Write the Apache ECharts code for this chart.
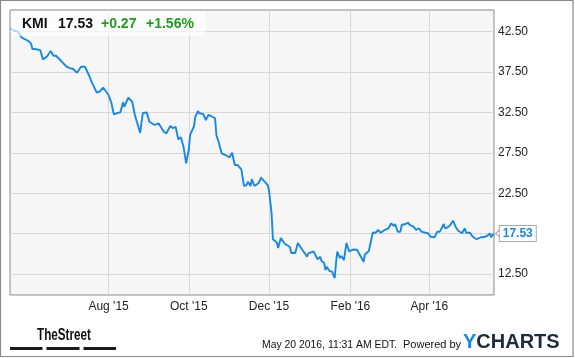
<!DOCTYPE html>
<html><head><meta charset="utf-8">
<script src="https://cdn.jsdelivr.net/npm/echarts@6/dist/echarts.min.js"></script>
<style>html,body{margin:0;padding:0;background:#fff}#c{width:575px;height:358px}</style>
</head><body><div id="c"></div>
<script>
const dates = ['2015-05-18','2015-05-21','2015-05-24','2015-05-27','2015-06-01','2015-06-03','2015-06-04','2015-06-06','2015-06-10','2015-06-12','2015-06-15','2015-06-18','2015-06-20','2015-06-22','2015-06-26','2015-06-30','2015-07-03','2015-07-05','2015-07-08','2015-07-09','2015-07-11','2015-07-14','2015-07-17','2015-07-19','2015-07-23','2015-07-25','2015-07-28','2015-08-01','2015-08-03','2015-08-05','2015-08-07','2015-08-10','2015-08-12','2015-08-13','2015-08-16','2015-08-17','2015-08-19','2015-08-21','2015-08-25','2015-08-27','2015-08-30','2015-09-01','2015-09-05','2015-09-08','2015-09-12','2015-09-14','2015-09-17','2015-09-19','2015-09-21','2015-09-23','2015-09-25','2015-09-27','2015-09-29','2015-10-01','2015-10-02','2015-10-05','2015-10-06','2015-10-08','2015-10-09','2015-10-12','2015-10-14','2015-10-16','2015-10-18','2015-10-21','2015-10-22','2015-10-24','2015-10-26','2015-10-27','2015-10-29','2015-10-30','2015-11-01','2015-11-03','2015-11-05','2015-11-07','2015-11-10','2015-11-12','2015-11-14','2015-11-15','2015-11-17','2015-11-18','2015-11-20','2015-11-23','2015-11-25','2015-11-27','2015-11-30','2015-12-01','2015-12-03','2015-12-04','2015-12-07','2015-12-08','2015-12-10','2015-12-13','2015-12-17','2015-12-18','2015-12-21','2015-12-23','2015-12-26','2015-12-30','2015-12-31','2016-01-04','2016-01-05','2016-01-07','2016-01-09','2016-01-10','2016-01-12','2016-01-13','2016-01-14','2016-01-16','2016-01-18','2016-01-20','2016-01-21','2016-01-22','2016-01-24','2016-01-25','2016-01-27','2016-01-29','2016-01-31','2016-02-03','2016-02-06','2016-02-08','2016-02-11','2016-02-12','2016-02-15','2016-02-16','2016-02-18','2016-02-19','2016-02-20','2016-02-22','2016-02-24','2016-02-27','2016-03-01','2016-03-03','2016-03-05','2016-03-06','2016-03-08','2016-03-10','2016-03-11','2016-03-14','2016-03-16','2016-03-17','2016-03-20','2016-03-22','2016-03-24','2016-03-26','2016-03-29','2016-03-31','2016-04-02','2016-04-05','2016-04-07','2016-04-09','2016-04-12','2016-04-13','2016-04-15','2016-04-17','2016-04-19','2016-04-21','2016-04-23','2016-04-26','2016-04-28','2016-04-29','2016-05-02','2016-05-04','2016-05-07','2016-05-10','2016-05-12','2016-05-15','2016-05-17','2016-05-18','2016-05-20'];
const prices = [42.90,42.65,42.50,41.76,41.35,41.06,40.36,40.36,40.23,39.08,39.40,40.11,39.53,39.53,38.87,38.17,37.97,37.88,37.42,37.63,38.17,38.17,37.14,36.31,34.95,35.07,35.57,34.66,33.76,32.27,32.40,32.52,33.76,33.21,34.33,34.45,33.83,32.19,29.99,32.40,32.52,31.36,30.95,31.16,30.12,29.92,30.82,30.54,30.74,29.18,29.43,28.26,26.21,27.85,29.71,30.82,31.98,32.68,32.40,32.31,31.57,32.19,32.06,31.78,29.71,28.68,27.44,27.64,27.23,27.36,26.95,27.52,26.00,26.00,25.46,23.40,23.52,23.93,23.40,24.23,23.40,23.73,24.42,24.05,23.52,22.90,20.02,16.80,16.40,15.72,16.96,16.25,15.84,15.10,15.10,16.34,15.60,14.64,15.06,15.31,15.47,14.32,14.64,14.11,13.86,13.00,13.40,12.87,12.79,12.00,13.83,15.26,14.48,14.73,14.23,16.34,15.29,15.53,15.51,14.91,14.02,14.91,15.35,15.56,17.64,17.86,17.58,17.95,17.61,17.95,18.16,18.78,18.44,18.69,17.74,17.74,18.57,18.69,18.85,18.57,18.36,17.95,18.16,17.74,17.61,17.54,17.12,17.04,17.74,17.74,18.69,18.16,18.28,18.57,19.10,18.36,17.86,17.54,18.16,17.61,17.61,17.12,16.80,17.05,17.05,17.21,17.54,17.05,17.53];
const xTickDates = ['2015-08-01','2015-10-01','2015-12-01','2016-02-01','2016-04-01'];
const xTickLabels = ["Aug '15","Oct '15","Dec '15","Feb '16","Apr '16"];
const yTicks = [12.5,17.5,22.5,27.5,32.5,37.5,42.5];
const ticker = 'KMI', lastPrice = '17.53', change = '+0.27', changePct = '+1.56%';
const timestampText = 'May 20 2016, 11:31 AM EDT.';

const ts = s => new Date(s + 'T00:00:00Z').getTime();
const xTickTimes = xTickDates.map(ts);
const seriesData = dates.map((d, i) => [ts(d), prices[i]]);
const BLUE = '#1689e6';
const FONT = '"Liberation Sans", Arial, sans-serif';

const chart = echarts.init(document.getElementById('c'), null, {renderer: 'canvas'});
chart.setOption({
  animation: false,
  backgroundColor: '#ffffff',
  grid: {left: 10, top: 10, right: 81, bottom: 63, show: true, backgroundColor: '#f6f6f6', borderColor: '#8a8a8a', borderWidth: 1},
  xAxis: {
    type: 'value', min: ts('2015-05-18'), max: ts('2016-05-20') + 5 * 3600e3,
    axisLine: {show: false}, axisTick: {show: false, customValues: xTickTimes},
    splitLine: {show: true, lineStyle: {color: '#d8d8d8', width: 1}},
    axisLabel: {customValues: xTickTimes, margin: 6, color: '#222', fontSize: 12, fontFamily: FONT,
      formatter: v => { const i = xTickTimes.indexOf(v); return i >= 0 ? xTickLabels[i] : ''; }}
  },
  yAxis: {
    type: 'value', position: 'right', min: 9.9, max: 45.19,
    axisLine: {show: false}, axisTick: {show: false, customValues: yTicks},
    splitLine: {show: true, lineStyle: {color: '#d8d8d8', width: 1}},
    axisLabel: {customValues: yTicks, margin: 4, color: '#222', fontSize: 12, fontFamily: FONT,
      formatter: v => v.toFixed(2)}
  },
  series: [{
    type: 'line', data: seriesData, showSymbol: false, smooth: false,
    lineStyle: {width: 1.9, color: {type: 'linear', x: 0, y: 0, x2: 1, y2: 0,
      colorStops: [{offset: 0, color: '#b3d9f7'}, {offset: 0.012, color: BLUE}, {offset: 1, color: BLUE}]}},
    endLabel: {show: true, formatter: () => lastPrice, distance: 6, color: BLUE, fontWeight: 'bold',
      fontSize: 12, fontFamily: FONT, backgroundColor: '#fff', borderColor: '#a9a9a9', borderWidth: 1, padding: [2, 3, 1, 3]},
    markPoint: {silent: true, symbol: 'triangle', symbolRotate: 90, symbolSize: [7, 4], symbolOffset: [4, 0],
      itemStyle: {color: '#fff', borderColor: '#a9a9a9', borderWidth: 1}, label: {show: false},
      data: [{coord: seriesData[seriesData.length - 1]}]}
  }],
  graphic: [
    {type: 'rect', shape: {x: 0.5, y: 0.5, width: 572.5, height: 356}, style: {fill: 'none', stroke: '#8a8a8a', lineWidth: 1.2}, z: 100},
    {type: 'rect', shape: {x: 11, y: 11, width: 195, height: 25}, style: {fill: 'rgba(255,255,255,0.65)'}, z: 50},
    {type: 'text', x: 22, y: 24, style: {text: ticker, font: 'bold 14px ' + FONT, fill: '#111', verticalAlign: 'middle'}, z: 51},
    {type: 'text', x: 58, y: 24, style: {text: lastPrice, font: 'bold 14px ' + FONT, fill: '#111', verticalAlign: 'middle'}, z: 51},
    {type: 'text', x: 101, y: 24, style: {text: change, font: 'bold 14px ' + FONT, fill: '#1e9e1e', verticalAlign: 'middle'}, z: 51},
    {type: 'text', x: 146, y: 24, style: {text: changePct, font: 'bold 14px ' + FONT, fill: '#1e9e1e', verticalAlign: 'middle'}, z: 51},
    {type: 'text', x: 37, y: 336, scaleX: 0.73, style: {text: 'TheStreet', font: 'bold 16px ' + FONT, fill: '#111', verticalAlign: 'middle'}, z: 51},
    {type: 'rect', shape: {x: 10, y: 347, width: 32.5, height: 3}, style: {fill: '#1a1a1a'}},
    {type: 'rect', shape: {x: 46.5, y: 347, width: 33, height: 3}, style: {fill: '#1a1a1a'}},
    {type: 'rect', shape: {x: 83.5, y: 347, width: 32.5, height: 3}, style: {fill: '#1a1a1a'}},
    {type: 'text', x: 397, y: 345, style: {text: timestampText, font: '10.4px ' + FONT, fill: '#111', verticalAlign: 'middle', align: 'right'}},
    {type: 'text', x: 403, y: 345, style: {text: 'Powered by', font: '11px ' + FONT, fill: '#111', verticalAlign: 'middle'}},
    {type: 'text', x: 463, y: 342, style: {text: '{y|Y}{c|CHARTS}', verticalAlign: 'middle',
      rich: {y: {fontSize: 20, fontWeight: 'bold', fontFamily: FONT, fill: BLUE},
             c: {fontSize: 20, fontWeight: 'bold', fontFamily: FONT, fill: '#1d2b3a'}}}}
  ]
});
</script></body></html>
